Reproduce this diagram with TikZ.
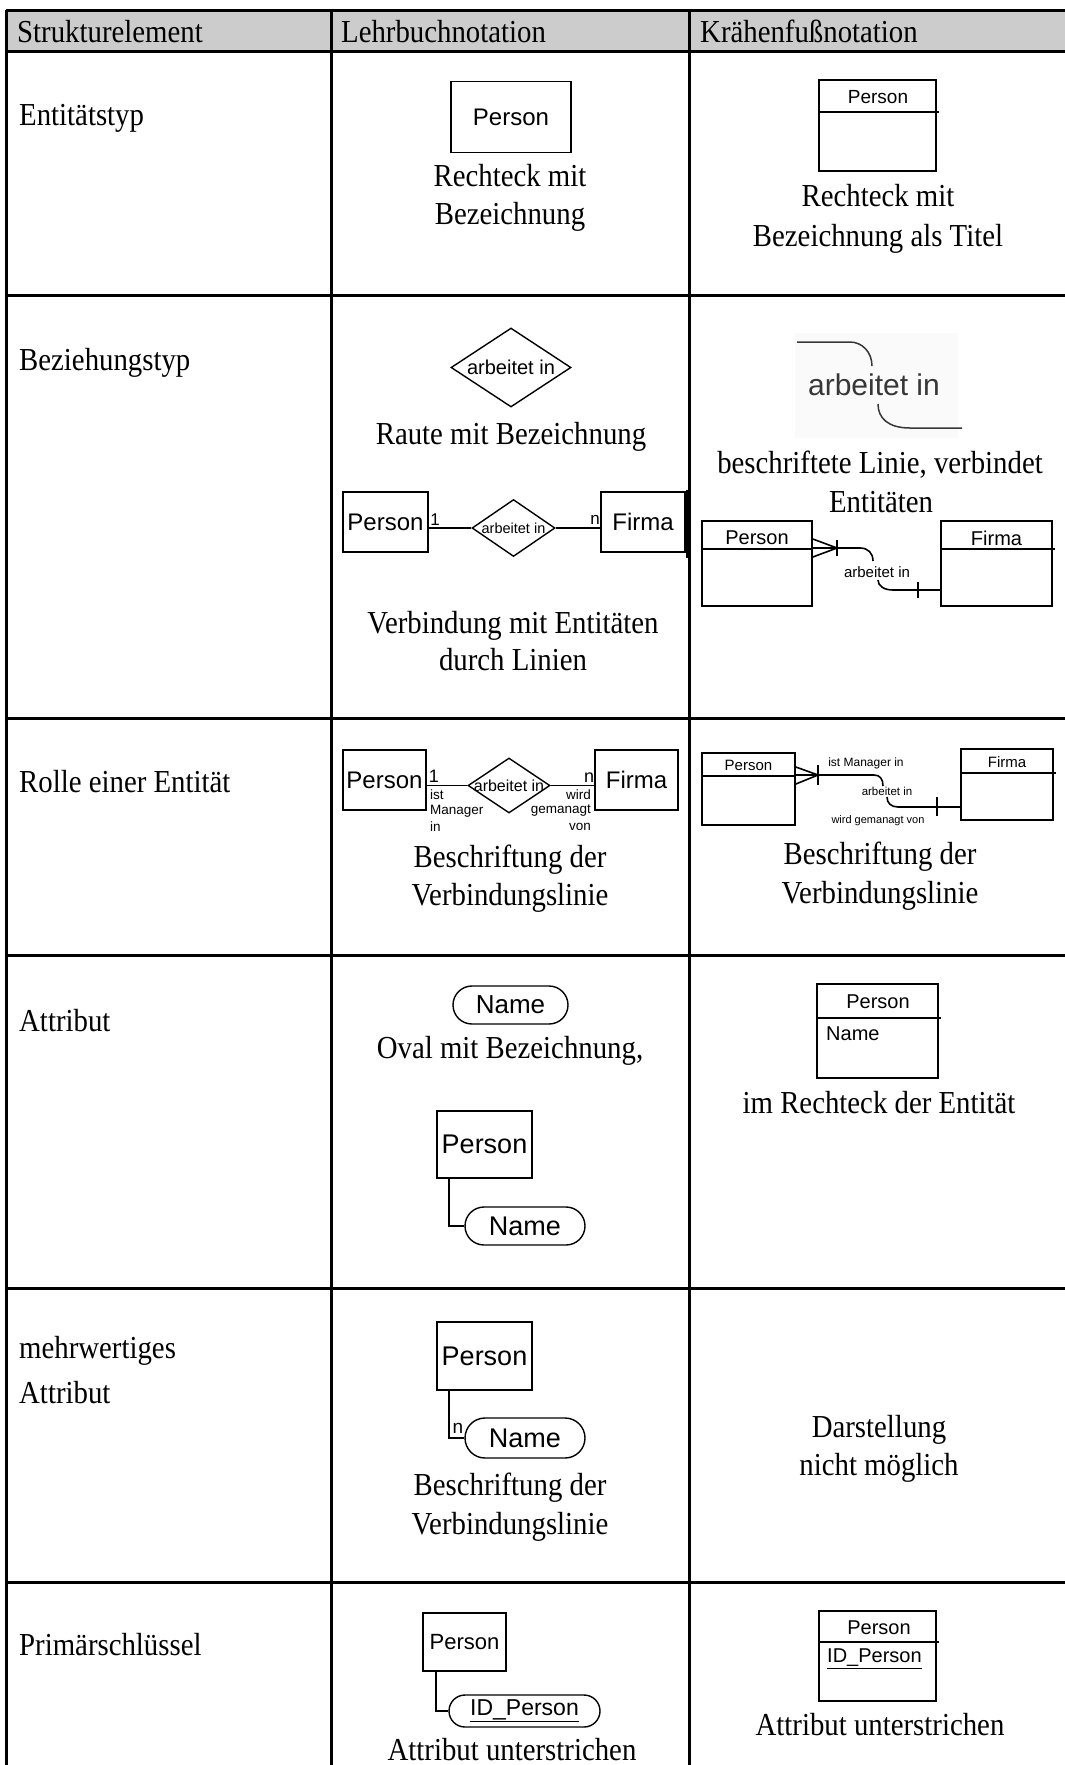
\documentclass[tikz,border=0pt]{standalone}
\usepackage{fontspec}
\setmainfont{Liberation Serif}[FakeStretch=0.9]
\newfontfamily\sansf{Liberation Sans}
\usetikzlibrary{shapes.geometric}
\definecolor{hdr}{RGB}{204,204,204}
\definecolor{shadebg}{RGB}{250,250,250}
\definecolor{dkg}{RGB}{55,55,55}
\newcommand{\Fz}[2]{\fontsize{#1}{#2}\selectfont}
\begin{document}
\begin{tikzpicture}[x=1pt,y=-1pt,
  tline/.style={line width=3pt},
  stxt/.style={font=\Fz{32}{37}, anchor=base, inner sep=0},
  ltxt/.style={font=\Fz{32}{37}, anchor=base west, inner sep=0},
  lbox/.style={draw, line width=1.4pt, inner sep=0, font=\sansf\Fz{24}{28}},
  cbox/.style={draw, line width=1.7pt, inner sep=0},
  divl/.style={line width=1.7pt},
  ctitle/.style={font=\sansf\Fz{19}{22}, inner sep=0},
  ldia/.style={draw, diamond, line width=1.4pt, inner sep=0},
  dtxt/.style={font=\sansf, inner sep=0},
  oval/.style={draw, line width=1.4pt, inner sep=0, font=\sansf\Fz{26}{30}},
  conn/.style={line width=1.4pt},
  cconn/.style={line width=1.6pt},
  tiny/.style={font=\sansf\Fz{13.5}{16}, inner sep=0},
  card/.style={font=\sansf\Fz{17}{20}, inner sep=0},
]
\useasboundingbox (0,0) rectangle (1065,1765);
\fill[white] (0,0) rectangle (1065,1765);

% ---------- table ----------
\fill[hdr] (6,10) rectangle (1065,51);
\foreach \yy in {10,51,295,718,955,1288,1582}
  \draw[tline] (6,\yy) -- (1065,\yy);
\foreach \xx in {6,331,689}
  \draw[tline] (\xx,10) -- (\xx,1765);
\draw[line width=5pt] (688.5,490) -- (688.5,558);

% header
\node[ltxt] (h1) at (17,42) {Strukturelement};
\node[ltxt] (h2) at (341,42) {Lehrbuchnotation};
\node[ltxt] (h3) at (700,42) {Krähenfußnotation};

% left column
\node[ltxt] (s1) at (19,125) {Entitätstyp};
\node[ltxt] (s2) at (19,370) {Beziehungstyp};
\node[ltxt] (s3) at (19,792) {Rolle einer Entität};
\node[ltxt] (s4) at (19,1031) {Attribut};
\node[ltxt] (s5a) at (19,1358) {mehrwertiges};
\node[ltxt] (s5b) at (19,1403) {Attribut};
\node[ltxt] (s6) at (19,1655) {Primärschlüssel};

% ---------- row 1 ----------
\node[lbox, minimum width=120, minimum height=71] (p1) at (511,117) {Person};
\node[stxt] (t1a) at (510,186) {Rechteck mit};
\node[stxt] (t1b) at (510,224) {Bezeichnung};

\node[cbox, minimum width=117, minimum height=91] (c1) at (877.5,125.5) {};
\draw[divl] (c1.west |- 0,112) -- ([xshift=2]c1.east |- 0,112);
\node[ctitle] (c1t) at (878,97) {Person};
\node[stxt] (u1a) at (878,206) {Rechteck mit};
\node[stxt] (u1b) at (878,246) {Bezeichnung als Titel};

% ---------- row 2 ----------
\node[ldia, minimum width=120, minimum height=79] (d1) at (511,367.5) {};
\node[dtxt, font=\sansf\Fz{20}{24}] (d1t) at (d1) {arbeitet in};
\node[stxt] (t2a) at (511,444) {Raute mit Bezeichnung};

\node[lbox, minimum width=85, minimum height=60] (p2) at (385.5,522) {Person};
\node[lbox, minimum width=84, minimum height=60] (f2) at (643,522) {Firma};
\node[ldia, minimum width=83, minimum height=57] (d2) at (513.5,528) {};
\node[dtxt, font=\sansf\Fz{14.5}{17}] (d2t) at (d2) {arbeitet in};
\draw[conn] (p2.east |- d2) -- (d2.west);
\draw[conn] (d2.east) -- (f2.west |- d2);
\node[card] (k21) at (435,520) {1};
\node[card] (k22) at (595,520) {n};
\node[stxt] (t2b) at (513,633) {Verbindung mit Entitäten};
\node[stxt] (t2c) at (513,670) {durch Linien};

% crow: labelled line
\fill[shadebg] (795,333) rectangle (958,438);
\coordinate (bl1) at (797,342);
\coordinate (bl2) at (872,366);
\coordinate (bl3) at (878,404);
\coordinate (bl4) at (962,428);
\draw[line width=1.5pt, dkg] (bl1) -- (850,342) .. controls (862,342) and (872,352) .. (bl2);
\node[font=\sansf\Fz{30}{34}, text=dkg, anchor=base, inner sep=0] (blt) at (874,395) {arbeitet in};
\draw[line width=1.5pt, dkg] (bl3) .. controls (878,418) and (888,428) .. (910,428) -- (bl4);
\node[stxt] (u2a) at (880,473) {beschriftete Linie, verbindet};
\node[stxt] (u2b) at (881,512) {Entitäten};

\node[cbox, minimum width=110, minimum height=85] (c2p) at (757,563.5) {};
\draw[divl] (c2p.west |- 0,549) -- (c2p.east |- 0,549);
\node[ctitle, font=\sansf\Fz{20}{23}] (c2pt) at (757,538) {Person};
\node[cbox, minimum width=111, minimum height=85] (c2f) at (996.5,563.5) {};
\draw[divl] (c2f.west |- 0,549) -- ([xshift=2]c2f.east |- 0,549);
\node[ctitle, font=\sansf\Fz{20}{23}] (c2ft) at (996.5,538) {Firma};
\coordinate (c2h) at (837,548);
\coordinate (c2u) at (873,561);
\coordinate (c2l) at (878,580);
\draw[cconn] (c2p.east |- 0,539) -- (c2h) -- (c2p.east |- 0,557);
\draw[cconn] ([yshift=-8]c2h) -- ([yshift=8]c2h);
\draw[cconn] (c2p.east |- c2h) -- (860,548) .. controls (868,548) and (873,553) .. (c2u);
\node[font=\sansf\Fz{15}{18}, inner sep=0] (c2lt) at (877,572) {arbeitet in};
\draw[cconn] (c2l) .. controls (878,586) and (884,590) .. (893,590) -- (c2f.west |- 0,590);
\draw[cconn] (918,582) -- (918,598);

% ---------- row 3 ----------
\node[lbox, minimum width=83, minimum height=60] (p3) at (384.5,780) {Person};
\node[lbox, minimum width=83, minimum height=60] (f3) at (636.5,780) {Firma};
\node[ldia, minimum width=82, minimum height=55] (d3) at (509,785.5) {};
\node[dtxt, font=\sansf\Fz{16}{19}] (d3t) at (d3) {arbeitet in};
\draw[conn] (p3.east |- d3) -- (d3.west);
\draw[conn] (d3.east) -- (f3.west |- d3);
\node[card, font=\sansf\Fz{18}{20}] (k31) at (434,776) {1};
\node[card, font=\sansf\Fz{18}{20}] (k32) at (589,778) {n};
\node[tiny, anchor=west] (r1a) at (430,795) {ist};
\node[tiny, anchor=west] (r1b) at (430,811) {Manager};
\node[tiny, anchor=west] (r1c) at (430,827) {in};
\node[tiny, anchor=east] (r2a) at (591,795) {wird};
\node[tiny, anchor=east] (r2b) at (591,811) {gemanagt};
\node[tiny, anchor=east] (r2c) at (591,827) {von};
\node[stxt] (t3a) at (510,867) {Beschriftung der};
\node[stxt] (t3b) at (510,905) {Verbindungslinie};

\node[cbox, minimum width=93, minimum height=72] (c3p) at (748.5,789) {};
\draw[divl] (c3p.west |- 0,776) -- (c3p.east |- 0,776);
\node[ctitle, font=\sansf\Fz{15}{18}] (c3pt) at (748.5,765) {Person};
\node[cbox, minimum width=92, minimum height=71] (c3f) at (1007,784.5) {};
\draw[divl] (c3f.west |- 0,773) -- ([xshift=2]c3f.east |- 0,773);
\node[ctitle, font=\sansf\Fz{15}{18}] (c3ft) at (1007,762) {Firma};
\coordinate (c3h) at (818,775);
\coordinate (c3u) at (883,786);
\coordinate (c3l) at (887,797);
\draw[cconn] (c3p.east |- 0,767) -- (c3h) -- (c3p.east |- 0,784);
\draw[cconn] ([yshift=-10]c3h) -- ([yshift=10]c3h);
\draw[cconn] (c3p.east |- c3h) -- (874,775) .. controls (880,775) and (883,779) .. (c3u);
\node[font=\sansf\Fz{12}{14}, inner sep=0] (c3m) at (866,763) {ist Manager in};
\node[font=\sansf\Fz{11.5}{14}, inner sep=0] (c3a) at (887,791) {arbeitet in};
\node[font=\sansf\Fz{11}{14}, inner sep=0] (c3w) at (878,821) {wird gemanagt von};
\draw[cconn] (c3l) .. controls (887,803) and (891,807) .. (898,807) -- (c3f.west |- 0,807);
\draw[cconn] (937,797) -- (937,816);
\node[stxt] (u3a) at (880,864) {Beschriftung der};
\node[stxt] (u3b) at (880,903) {Verbindungslinie};

% ---------- row 4 ----------
\node[oval, rounded corners=19pt, minimum width=115, minimum height=38] (o4a) at (510.5,1005) {Name};
\node[stxt] (t4a) at (510,1058) {Oval mit Bezeichnung,};
\node[lbox, font=\sansf\Fz{27}{30}, minimum width=95, minimum height=67] (p4) at (484.5,1144.5) {Person};
\node[oval, font=\sansf\Fz{27}{30}, rounded corners=19pt, minimum width=120, minimum height=38] (o4b) at (525,1226) {Name};
\draw[conn] ([xshift=-35.5]p4.south) |- (o4b.west);

\node[cbox, minimum width=121, minimum height=94] (c4) at (877.5,1031) {};
\draw[divl] (c4.west |- 0,1018) -- ([xshift=2]c4.east |- 0,1018);
\node[ctitle, font=\sansf\Fz{20}{23}] (c4t) at (878,1002) {Person};
\node[ctitle, font=\sansf\Fz{20}{23}, anchor=west] (c4n) at (826,1034) {Name};
\node[stxt] (u4a) at (879,1113) {im Rechteck der Entität};

% ---------- row 5 ----------
\node[lbox, font=\sansf\Fz{27}{30}, minimum width=95, minimum height=68] (p5) at (484.5,1356) {Person};
\node[oval, font=\sansf\Fz{27}{30}, rounded corners=20pt, minimum width=120, minimum height=40] (o5) at (525,1438) {Name};
\draw[conn] ([xshift=-35.5]p5.south) |- (o5.west);
\node[card, font=\sansf\Fz{19}{22}] (k5) at (458,1428) {n};
\node[stxt] (t5a) at (510,1495) {Beschriftung der};
\node[stxt] (t5b) at (510,1534) {Verbindungslinie};

\node[stxt] (u5a) at (879,1437) {Darstellung};
\node[stxt] (u5b) at (879,1475) {nicht möglich};

% ---------- row 6 ----------
\node[lbox, font=\sansf\Fz{22}{26}, minimum width=83, minimum height=58] (p6) at (464.5,1642) {Person};
\node[oval, font=\sansf\Fz{23}{26}, rounded corners=16pt, minimum width=151, minimum height=32] (o6) at (524.5,1711) {\underline{ID\_Person}};
\draw[conn] ([xshift=-28.5]p6.south) |- (o6.west);
\node[stxt] (t6a) at (512,1760) {Attribut unterstrichen};

\node[cbox, minimum width=117, minimum height=90] (c6) at (877.5,1656) {};
\draw[divl] (c6.west |- 0,1642) -- ([xshift=2]c6.east |- 0,1642);
\node[ctitle, font=\sansf\Fz{20}{23}] (c6t) at (879,1628) {Person};
\node[ctitle, font=\sansf\Fz{20}{23}, anchor=west] (c6n) at (827,1659) {\underline{ID\_Person}};
\node[stxt] (u6a) at (880,1735) {Attribut unterstrichen};
\end{tikzpicture}
\end{document}
